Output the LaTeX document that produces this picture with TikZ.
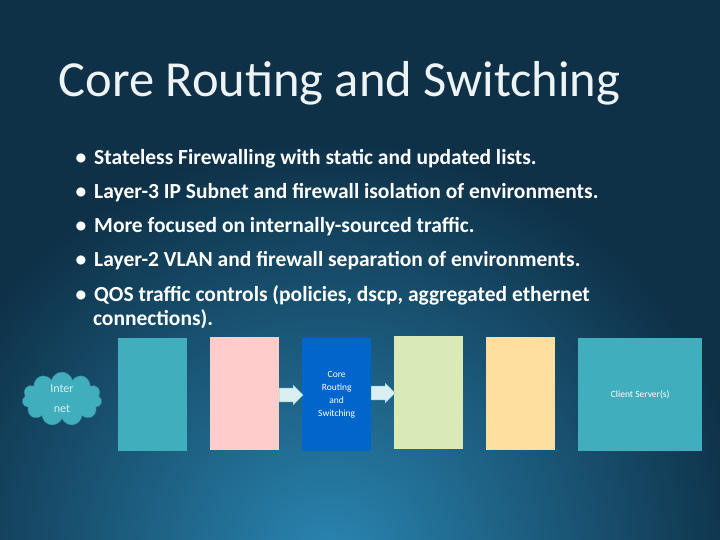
\documentclass[tikz,border=0pt]{standalone}
\usepackage{fontspec}
\setmainfont{Carlito}
\usetikzlibrary{shapes.symbols,shapes.arrows}
\definecolor{bgdark}{HTML}{0E3148}
\definecolor{bglight}{HTML}{2A86B2}
\definecolor{teal}{HTML}{41AEBE}
\definecolor{pinkb}{HTML}{FFCCCC}
\definecolor{blueb}{HTML}{0066CC}
\definecolor{greenb}{HTML}{D9EAB6}
\definecolor{orangeb}{HTML}{FFDFA0}
\definecolor{titlec}{HTML}{EEF4F6}
\begin{document}
\begin{tikzpicture}[x=1pt,y=-1pt,
  box/.style={minimum width=69pt,minimum height=113pt,inner sep=0pt,anchor=north west},
  lab/.style={font=\fontsize{9.5}{13}\selectfont,text=white,align=center},
  arr/.style={single arrow,fill=white!80!teal,draw=teal!60,minimum height=24pt,minimum width=20pt,single arrow head extend=1pt,inner sep=2pt,anchor=west},
  bul/.style={font=\bfseries\fontsize{21.5}{24}\selectfont,text=white,anchor=north west,align=left}]
\useasboundingbox (0,0) rectangle (720,540);
\fill[bgdark] (0,0) rectangle (720,540);
\begin{scope}
\clip (0,0) rectangle (720,540);
\shade[inner color=bglight,outer color=bgdark] (330,560) circle (420);
\end{scope}
\node[anchor=west,text=titlec,font=\fontsize{50.5}{54}\selectfont] (title) at (55,83) {Core Routing and Switching};
\node[bul] (b1) at (72,146) {•\hspace{8pt}Stateless Firewalling with static and updated lists.};
\node[bul] (b2) at (72,180) {•\hspace{8pt}Layer-3 IP Subnet and firewall isolation of environments.};
\node[bul] (b3) at (72,214) {•\hspace{8pt}More focused on internally-sourced traffic.};
\node[bul] (b4) at (72,248) {•\hspace{8pt}Layer-2 VLAN and firewall separation of environments.};
\node[bul] (b5) at (72,282) {•\hspace{8pt}QOS traffic controls (policies, dscp, aggregated ethernet\\\hspace{17.5pt}connections).};
\node[cloud,cloud puffs=11,aspect=1.4,fill=teal,draw=teal!70!black,minimum width=80pt,minimum height=54pt,inner sep=0pt,align=center,font=\fontsize{12}{20}\selectfont,text=white!80!teal] (net) at (62,399) {Inter\\net};
\node[box,fill=teal] (f1) at (118,338) {};
\node[box,fill=pinkb] (f2) at (210,337) {};
\node[box,fill=blueb,lab] (core) at (302,338) {Core\\Routing\\and\\Switching};
\node[box,fill=greenb] (f4) at (394,336) {};
\node[box,fill=orangeb] (f5) at (486,337) {};
\node[box,fill=teal,minimum width=124pt,lab] (cs) at (578,338) {Client Server(s)};
\node[arr] (a1) at (279,395) {};
\node[arr] (a2) at (371,393) {};
\end{tikzpicture}
\end{document}
